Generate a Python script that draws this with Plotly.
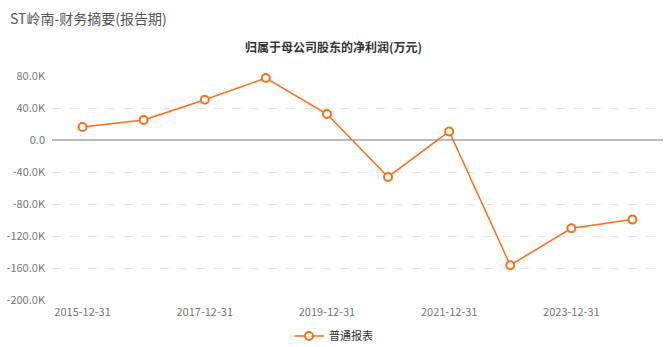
import plotly.graph_objects as go

categories = ["2015-12-31", "2016-12-31", "2017-12-31", "2018-12-31", "2019-12-31",
              "2020-12-31", "2021-12-31", "2022-12-31", "2023-12-31", "2024-12-31"]
values = [16200, 25000, 50300, 77400, 32500, -46200, 10700, -156500, -110300, -99500]
tick_vals = [80000, 40000, 0, -40000, -80000, -120000, -160000, -200000]
tick_text = ["80.0K", "40.0K", "0.0", "-40.0K", "-80.0K", "-120.0K", "-160.0K", "-200.0K"]
x_labels = ["2015-12-31", "2017-12-31", "2019-12-31", "2021-12-31", "2023-12-31"]

color = "#FA6E17"
font = "Noto Sans CJK SC"

W, H = 667, 347
l, r, t, b = 52, 4, 76, 47
pw, ph = W - l - r, H - t - b

def px_x(x):
    return (x - l) / pw

def px_y(y):
    return (H - y - b) / ph

fig = go.Figure()
fig.add_trace(go.Scatter(
    x=categories, y=values, mode="lines+markers", name="普通报表",
    line=dict(color=color, width=1.5),
    marker=dict(size=8, color="white", line=dict(color=color, width=2)),
    cliponaxis=False,
))

fig.update_layout(
    width=W, height=H,
    margin=dict(l=l, r=r, t=t, b=b, autoexpand=False),
    paper_bgcolor="white", plot_bgcolor="white",
    font=dict(family=font, color="#666", size=11),
    showlegend=True,
    legend=dict(orientation="h", x=0.5, xanchor="center", xref="container",
                y=1 - 336 / H, yanchor="middle", yref="container",
                font=dict(size=11, color="#333")),
    annotations=[
        dict(text="ST岭南-财务摘要(报告期)", x=px_x(8), y=px_y(18), xref="paper", yref="paper",
             showarrow=False, font=dict(size=14, color="#555", family=font),
             xanchor="left", yanchor="middle"),
        dict(text="<b>归属于母公司股东的净利润(万元)</b>", x=px_x(333.5), y=px_y(47),
             xref="paper", yref="paper",
             showarrow=False, font=dict(size=12, color="#333", family=font),
             xanchor="center", yanchor="middle"),
    ],
)

fig.update_xaxes(
    type="category", categoryorder="array", categoryarray=categories,
    tickvals=x_labels, ticktext=x_labels, showgrid=False, zeroline=False,
    showline=False, ticks="", tickfont=dict(size=11, color="#777"),
    range=[-0.5, 9.5], ticklabelstandoff=4,
)
fig.update_yaxes(
    range=[-200000, 80000], tickvals=tick_vals, ticktext=tick_text,
    showgrid=True, gridcolor="#e6e6e6", griddash="dash", gridwidth=1,
    zeroline=True, zerolinecolor="#bbbbbb", zerolinewidth=1.5,
    showline=False, ticks="", tickfont=dict(size=11, color="#777"),
    ticklabelstandoff=6,
)

fig.write_html("out.html")
